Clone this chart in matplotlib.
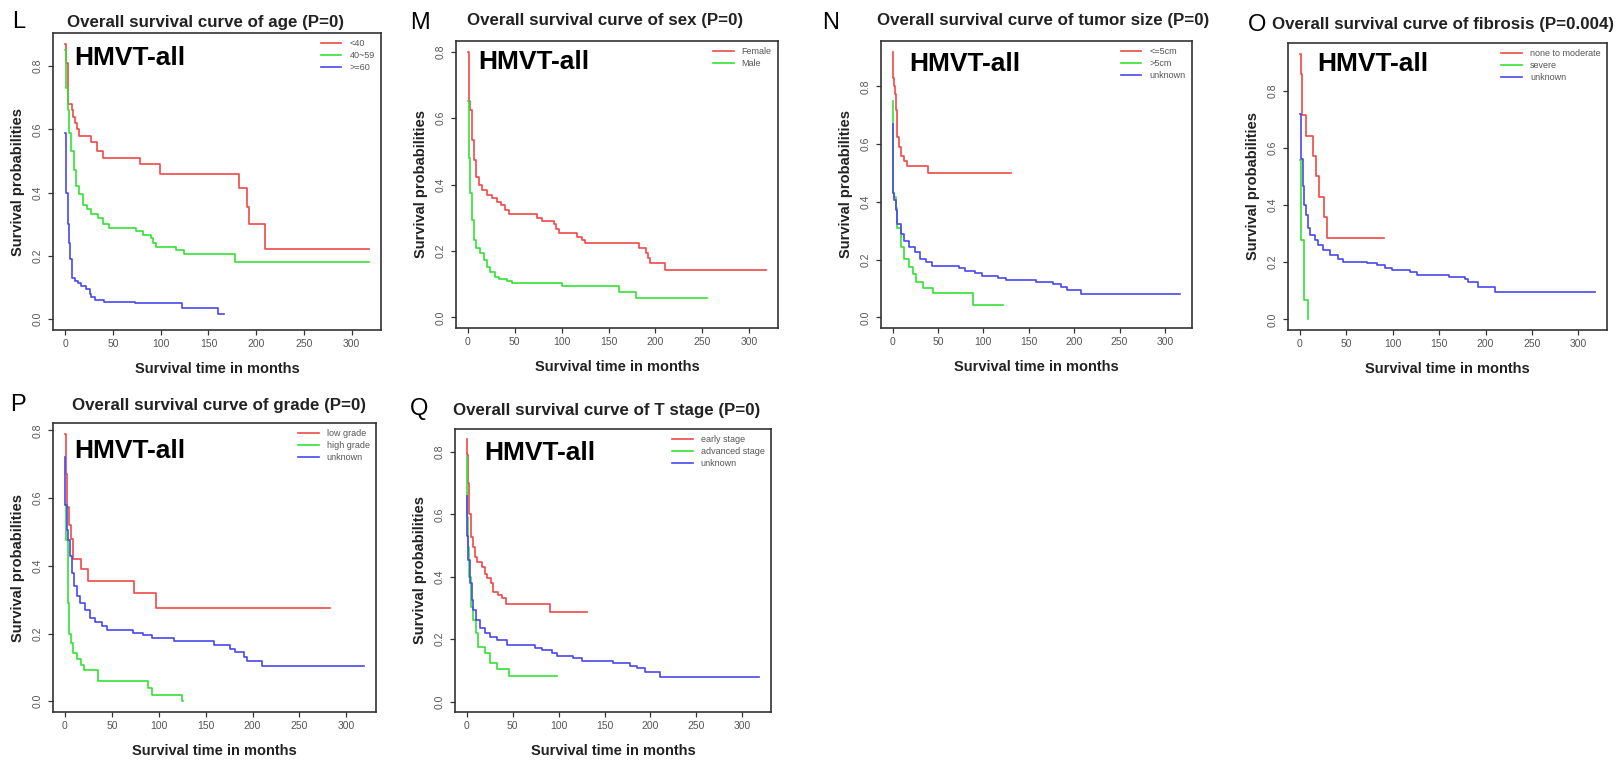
import matplotlib
matplotlib.use("Agg")
import matplotlib.pyplot as plt
from matplotlib.lines import Line2D

plt.rcParams['font.family'] = ['Liberation Sans', 'DejaVu Sans']

W, H = 1618, 760

RED, GREEN, BLUE = '#f04848', '#35e035', '#4848ee'

# ---------------- data (Kaplan-Meier steps: survival from time t onward) ----------------
# L: age
age_lt40_t = [0, 1, 3, 7, 8, 10, 12, 15, 27, 33, 40, 78, 99, 182, 190, 193, 209, 318]
age_lt40_s = [0.87, 0.81, 0.68, 0.66, 0.64, 0.62, 0.60, 0.58, 0.56, 0.53, 0.51, 0.49, 0.46, 0.415, 0.355, 0.30, 0.22, 0.22]
age_40_59_t = [0, 0.5, 3, 4.5, 6, 9, 11.5, 15, 18.5, 23, 27, 34, 40, 46, 74, 81, 90, 92, 95, 116, 124, 178, 318]
age_40_59_s = [0.85, 0.73, 0.66, 0.59, 0.53, 0.47, 0.42, 0.395, 0.36, 0.347, 0.333, 0.32, 0.30, 0.288, 0.277, 0.267, 0.255, 0.24, 0.228, 0.218, 0.205, 0.18, 0.18]
age_ge60_t = [0, 1, 3, 4, 5, 7, 10, 13, 17, 22, 25.5, 27, 31, 41, 73, 122, 160, 166]
age_ge60_s = [0.59, 0.40, 0.30, 0.24, 0.19, 0.13, 0.12, 0.115, 0.105, 0.095, 0.08, 0.07, 0.06, 0.055, 0.05, 0.035, 0.017, 0.017]

# M: sex
sex_f_t = [0, 1, 1.5, 2.5, 4, 6, 9, 11.5, 15, 20, 26, 31, 35, 40, 43.5, 74, 79, 91.5, 94, 97, 116.5, 122, 125, 182, 189.5, 192, 194, 210, 318]
sex_f_s = [0.80, 0.69, 0.65, 0.625, 0.534, 0.474, 0.424, 0.40, 0.384, 0.368, 0.358, 0.348, 0.338, 0.323, 0.31, 0.30, 0.29, 0.28, 0.265, 0.253, 0.243, 0.233, 0.223, 0.208, 0.193, 0.18, 0.165, 0.143, 0.143]
sex_m_t = [0, 1, 2.5, 4, 6, 9, 13, 17, 20, 24, 28.5, 33, 42, 47, 100, 161, 179, 255]
sex_m_s = [0.65, 0.48, 0.374, 0.293, 0.233, 0.208, 0.193, 0.173, 0.153, 0.138, 0.122, 0.115, 0.109, 0.103, 0.095, 0.075, 0.057, 0.057]

# N: tumor size
size_le5_t = [0, 0.5, 1.8, 3, 4.3, 5.3, 7, 9, 12.5, 16, 39, 130]
size_le5_s = [0.92, 0.83, 0.80, 0.775, 0.717, 0.624, 0.59, 0.56, 0.543, 0.523, 0.50, 0.50]
size_gt5_t = [0, 1, 1.8, 3.5, 5.3, 9, 12.5, 18, 22.4, 25.6, 34, 44.5, 89, 121.7]
size_gt5_s = [0.75, 0.43, 0.416, 0.38, 0.31, 0.243, 0.202, 0.173, 0.15, 0.121, 0.10, 0.083, 0.043, 0.043]
size_unk_t = [0, 0.5, 1, 1.8, 3.5, 5.3, 9, 12.5, 18, 25, 30, 37, 43, 73, 80, 91, 98, 116, 124.6, 158, 177, 185, 192, 208, 317]
size_unk_s = [0.67, 0.53, 0.43, 0.405, 0.37, 0.324, 0.289, 0.266, 0.243, 0.225, 0.202, 0.191, 0.179, 0.17, 0.162, 0.152, 0.143, 0.137, 0.13, 0.122, 0.114, 0.104, 0.094, 0.08, 0.08]

# O: fibrosis
fib_none_t = [0, 1, 2, 6.5, 13.7, 17, 20.5, 26, 29.5, 91]
fib_none_s = [0.93, 0.86, 0.715, 0.64, 0.57, 0.50, 0.43, 0.357, 0.286, 0.286]
fib_sev_t = [0, 1.8, 5, 8.5]
fib_sev_s = [0.556, 0.278, 0.069, 0.0]
fib_unk_t = [0, 1.5, 3, 4.3, 6.5, 9, 11.5, 16, 20, 25, 32, 41, 47, 72, 83, 92, 99, 118.6, 126, 161, 178, 181.5, 192, 210, 318]
fib_unk_s = [0.72, 0.56, 0.467, 0.40, 0.367, 0.32, 0.296, 0.279, 0.261, 0.243, 0.226, 0.212, 0.202, 0.196, 0.19, 0.18, 0.172, 0.165, 0.157, 0.149, 0.14, 0.131, 0.112, 0.097, 0.097]

# P: grade
gr_low_t = [0, 1, 2, 4, 6, 9, 17, 25, 74, 97, 282]
gr_low_s = [0.79, 0.67, 0.575, 0.52, 0.48, 0.42, 0.39, 0.355, 0.32, 0.275, 0.275]
gr_high_t = [0, 1, 3, 3.5, 4.6, 6, 9, 12.5, 17, 20, 35, 89, 92.6, 124.7, 125.7]
gr_high_s = [0.58, 0.477, 0.36, 0.29, 0.20, 0.172, 0.143, 0.125, 0.108, 0.093, 0.06, 0.04, 0.02, 0.0, 0.0]
gr_unk_t = [0, 0.5, 1.8, 3.6, 5.3, 7, 9.6, 12.5, 16, 21, 26.7, 32, 39, 44.5, 73, 83.7, 92.6, 115.8, 158.5, 176, 181.7, 190.6, 194, 209.5, 318.8]
gr_unk_s = [0.72, 0.58, 0.507, 0.477, 0.428, 0.379, 0.34, 0.31, 0.29, 0.27, 0.246, 0.233, 0.221, 0.211, 0.202, 0.195, 0.188, 0.177, 0.166, 0.155, 0.145, 0.13, 0.118, 0.103, 0.103]

# Q: T stage
ts_early_t = [0, 0.5, 1.8, 3, 4.4, 6.5, 9, 11.6, 16.3, 20, 22.5, 26, 29, 34.5, 38, 42.8, 90.7, 130.6]
ts_early_s = [0.84, 0.79, 0.70, 0.60, 0.528, 0.496, 0.464, 0.448, 0.432, 0.41, 0.395, 0.379, 0.352, 0.341, 0.331, 0.313, 0.288, 0.288]
ts_adv_t = [0, 0.5, 1.8, 2.5, 4.4, 7.3, 10, 12.7, 20, 25.4, 32.6, 46.4, 98.7]
ts_adv_s = [0.785, 0.59, 0.496, 0.40, 0.304, 0.261, 0.219, 0.176, 0.155, 0.123, 0.103, 0.082, 0.082]
ts_unk_t = [0, 0.5, 1.8, 3.6, 5.4, 7.3, 10, 14.5, 20, 25.4, 32.6, 43.5, 74, 81.6, 92.5, 98, 116, 125, 159.6, 177.7, 185, 194, 210, 318.5]
ts_unk_s = [0.66, 0.53, 0.453, 0.379, 0.325, 0.293, 0.261, 0.235, 0.219, 0.208, 0.197, 0.181, 0.173, 0.165, 0.155, 0.145, 0.138, 0.131, 0.123, 0.115, 0.107, 0.094, 0.08, 0.08]

letters = ['L', 'M', 'N', 'O', 'P', 'Q']
titles = ['Overall survival curve of age (P=0)',
          'Overall survival curve of sex (P=0)',
          'Overall survival curve of tumor size (P=0)',
          'Overall survival curve of fibrosis (P=0.004)',
          'Overall survival curve of grade (P=0)',
          'Overall survival curve of T stage (P=0)']
legend_labels = [['<40', '40~59', '>=60'],
                 ['Female', 'Male'],
                 ['<=5cm', '>5cm', 'unknown'],
                 ['none to moderate', 'severe', 'unknown'],
                 ['low grade', 'high grade', 'unknown'],
                 ['early stage', 'advanced stage', 'unknown']]
series = [[(age_lt40_t, age_lt40_s), (age_40_59_t, age_40_59_s), (age_ge60_t, age_ge60_s)],
          [(sex_f_t, sex_f_s), (sex_m_t, sex_m_s)],
          [(size_le5_t, size_le5_s), (size_gt5_t, size_gt5_s), (size_unk_t, size_unk_s)],
          [(fib_none_t, fib_none_s), (fib_sev_t, fib_sev_s), (fib_unk_t, fib_unk_s)],
          [(gr_low_t, gr_low_s), (gr_high_t, gr_high_s), (gr_unk_t, gr_unk_s)],
          [(ts_early_t, ts_early_s), (ts_adv_t, ts_adv_s), (ts_unk_t, ts_unk_s)]]
x_ticks = [0, 50, 100, 150, 200, 250, 300]
y_ticks = [0.0, 0.2, 0.4, 0.6, 0.8]

# ---------------- layout (pixel boxes: left, right, top, bottom) ----------------
boxes = [(53, 381, 33, 330), (456, 778, 41, 328), (881, 1192, 41, 328),
         (1288, 1607, 43, 330), (53, 376, 423, 712), (455, 771, 429, 712)]
title_pos = [(205, 22), (605, 21), (1043, 21), (1443, 24), (219, 405), (607, 410)]
letter_pos = [(12, 22), (410, 23), (822, 23), (1248, 25), (10, 405), (410, 409)]
hm_pos = [(0.064, 0.892), (0.068, 0.902), (0.090, 0.895), (0.091, 0.902), (0.065, 0.879), (0.092, 0.890)]
colors = [RED, GREEN, BLUE]

fig = plt.figure(figsize=(W / 100, H / 100), dpi=100)
fig.patch.set_facecolor('white')

for i in range(6):
    l, r, t, b = boxes[i]
    ax = fig.add_axes([l / W, 1 - b / H, (r - l) / W, (b - t) / H])
    xmax = 0
    ymax = 0
    for k, (tt, ss) in enumerate(series[i]):
        ax.step(tt, ss, where='post', color=colors[k], lw=1.2)
        xmax = max(xmax, max(tt))
        ymax = max(ymax, max(ss))
    ax.set_xlim(-0.04 * xmax, 1.04 * xmax)
    ax.set_ylim(-0.04 * ymax, 1.04 * ymax)
    ax.set_xticks(x_ticks)
    ax.set_yticks(y_ticks)
    ax.set_xticklabels([str(v) for v in x_ticks])
    ax.set_yticklabels(['%.1f' % v for v in y_ticks], rotation=90, va='center')
    ax.tick_params(axis='both', direction='out', length=3.5, width=0.9, color='#333333',
                   labelsize=7.5, labelcolor='#555555')
    ax.tick_params(axis='x', pad=3)
    ax.tick_params(axis='y', pad=4)
    for sp in ax.spines.values():
        sp.set_color('#333333')
        sp.set_linewidth(1.2)
    handles = [Line2D([], [], color=colors[k], lw=1.2) for k in range(len(legend_labels[i]))]
    leg = ax.legend(handles, legend_labels[i], loc='upper right', frameon=False, fontsize=6.5,
                    handlelength=2.3, labelspacing=0.3, handletextpad=0.9, borderaxespad=0.3)
    for txt in leg.get_texts():
        txt.set_color('#555555')
    ax.text(hm_pos[i][0], hm_pos[i][1], 'HMVT-all', transform=ax.transAxes, fontsize=19,
            fontweight='bold', ha='left', va='baseline', color='black')
    ax.annotate('Survival time in months', xy=(0.5, 0), xycoords='axes fraction',
                xytext=(0, -39), textcoords='offset pixels', ha='center', va='center',
                fontsize=10.5, fontweight='bold', color='#222222')
    ax.annotate('Survival probabilities', xy=(0, 0.5), xycoords='axes fraction',
                xytext=(-35, 0), textcoords='offset pixels', ha='center', va='center',
                rotation=90, fontsize=10.5, fontweight='bold', color='#222222')
    fig.text(title_pos[i][0] / W, 1 - title_pos[i][1] / H, titles[i], ha='center', va='center',
             fontsize=12.2, fontweight='bold', color='#222222')
    fig.text(letter_pos[i][0] / W, 1 - letter_pos[i][1] / H, letters[i], ha='left', va='center',
             fontsize=17, color='black')

fig.savefig('out.png', dpi=100, facecolor='white')
